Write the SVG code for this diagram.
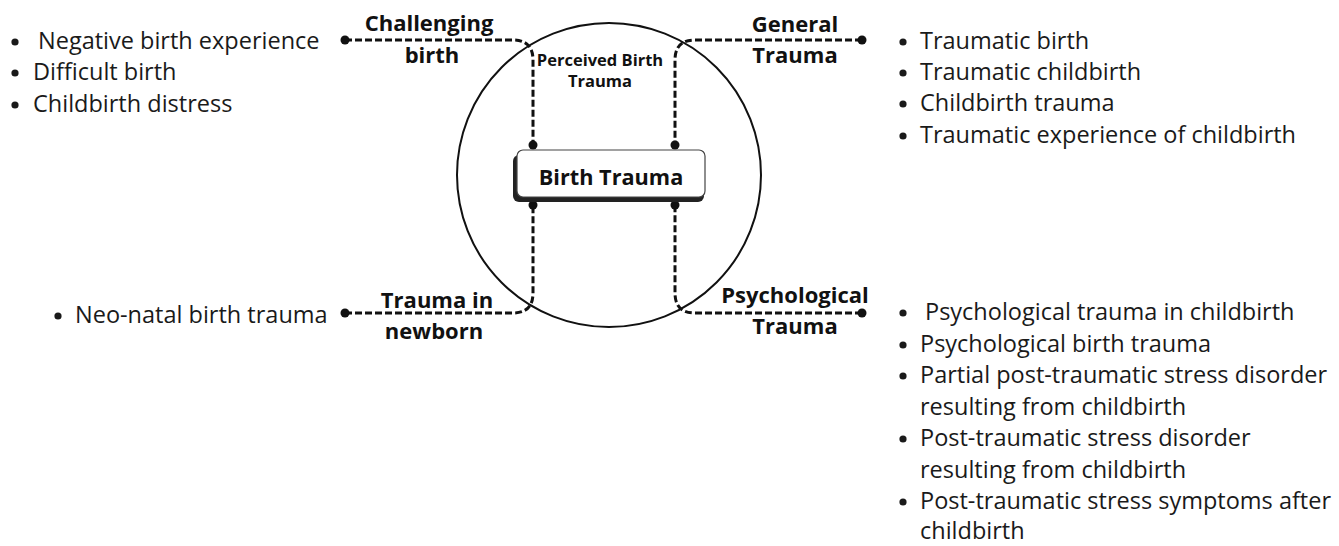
<svg xmlns="http://www.w3.org/2000/svg" width="1339" height="546" viewBox="0 0 1339 546">
<style>
.lst{font-family:"Open Sans","Noto Sans",sans-serif;font-size:23.5px;fill:#1a1a1a}
.lbl{font-family:"Open Sans","Noto Sans",sans-serif;font-size:22px;font-weight:bold;fill:#111;text-anchor:middle}
.sm{font-family:"Open Sans","Noto Sans",sans-serif;font-size:16.5px;font-weight:bold;fill:#111;text-anchor:middle}
.dash{fill:none;stroke:#111;stroke-width:3;stroke-dasharray:7 3}
.dot{fill:#111}
.bul{fill:#1a1a1a}
</style>
<rect width="1339" height="546" fill="#fff"/>
<g id="circle">
<circle cx="609" cy="175" r="152" fill="none" stroke="#111" stroke-width="2"/>
<text class="sm" x="600" y="66">Perceived Birth</text>
<text class="sm" x="600" y="87">Trauma</text>
</g>
<g id="connectors">
<path class="dash" d="M345,40 H513 Q533,40 533,60 V145"/>
<path class="dash" d="M862,40 H695 Q675,40 675,60 V145"/>
<path class="dash" d="M345,313 H513 Q533,313 533,293 V205"/>
<path class="dash" d="M862,313 H695 Q675,313 675,293 V205"/>
<circle class="dot" cx="345" cy="40" r="4.5"/>
<circle class="dot" cx="533" cy="145" r="4.5"/>
<circle class="dot" cx="862" cy="40" r="4.5"/>
<circle class="dot" cx="675" cy="145" r="4.5"/>
<circle class="dot" cx="345" cy="313" r="4.5"/>
<circle class="dot" cx="533" cy="205" r="4.5"/>
<circle class="dot" cx="862" cy="313" r="4.5"/>
<circle class="dot" cx="675" cy="205" r="4.5"/>
</g>
<g id="center">
<rect x="513" y="155" width="191" height="47" rx="6" fill="#222"/>
<rect x="517" y="150" width="188" height="47" rx="6" fill="#fff" stroke="#444" stroke-width="1.2"/>
<text class="lbl" x="611" y="185" style="font-size:21.7px">Birth Trauma</text>
</g>
<g id="challenging">
<text class="lbl" x="429" y="31">Challenging</text>
<text class="lbl" x="432" y="63">birth</text>
<circle class="bul" cx="15" cy="42" r="3.6"/>
<circle class="bul" cx="15" cy="73" r="3.6"/>
<circle class="bul" cx="15" cy="105" r="3.6"/>
<text class="lst" x="38" y="49">Negative birth experience</text>
<text class="lst" x="33" y="80">Difficult birth</text>
<text class="lst" x="33" y="112">Childbirth distress</text>
</g>
<g id="general">
<text class="lbl" x="795" y="32">General</text>
<text class="lbl" x="795" y="63">Trauma</text>
<circle class="bul" cx="903" cy="42" r="3.6"/>
<circle class="bul" cx="903" cy="73" r="3.6"/>
<circle class="bul" cx="903" cy="104" r="3.6"/>
<circle class="bul" cx="903" cy="136" r="3.6"/>
<text class="lst" x="920" y="49">Traumatic birth</text>
<text class="lst" x="920" y="80">Traumatic childbirth</text>
<text class="lst" x="920" y="111">Childbirth trauma</text>
<text class="lst" x="920" y="143">Traumatic experience of childbirth</text>
</g>
<g id="newborn">
<text class="lbl" x="437" y="308">Trauma in</text>
<text class="lbl" x="434" y="339">newborn</text>
<circle class="bul" cx="58" cy="316" r="3.6"/>
<text class="lst" x="75" y="323">Neo-natal birth trauma</text>
</g>
<g id="psychological">
<text class="lbl" x="795" y="303">Psychological</text>
<text class="lbl" x="795" y="334">Trauma</text>
<circle class="bul" cx="903" cy="313" r="3.6"/>
<circle class="bul" cx="903" cy="345" r="3.6"/>
<circle class="bul" cx="903" cy="376" r="3.6"/>
<circle class="bul" cx="903" cy="439" r="3.6"/>
<circle class="bul" cx="903" cy="502" r="3.6"/>
<text class="lst" x="925" y="320">Psychological trauma in childbirth</text>
<text class="lst" x="920" y="351.5">Psychological birth trauma</text>
<text class="lst" x="920" y="383">Partial post-traumatic stress disorder</text>
<text class="lst" x="920" y="414.5">resulting from childbirth</text>
<text class="lst" x="920" y="446">Post-traumatic stress disorder</text>
<text class="lst" x="920" y="477.5">resulting from childbirth</text>
<text class="lst" x="920" y="509">Post-traumatic stress symptoms after</text>
<text class="lst" x="920" y="539">childbirth</text>
</g>
</svg>
